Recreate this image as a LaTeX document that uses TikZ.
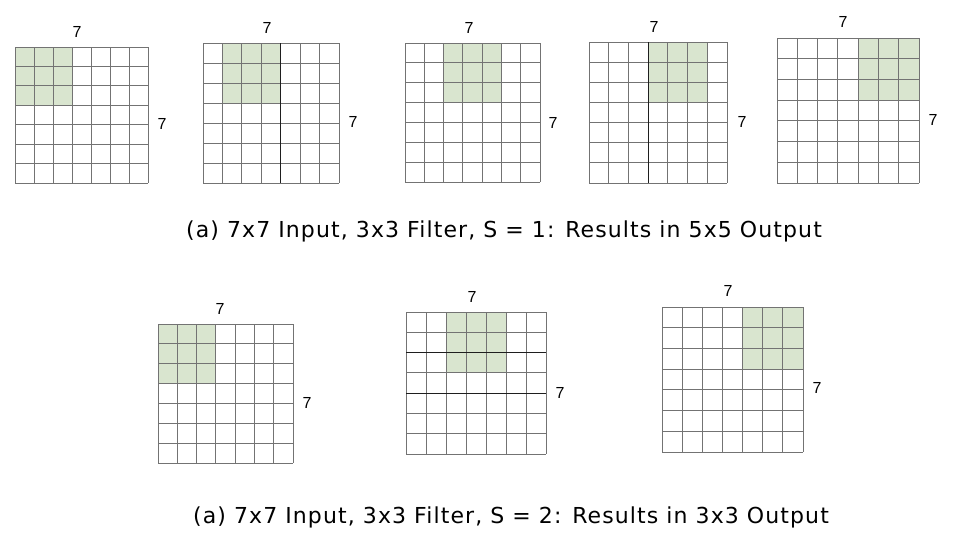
\documentclass[tikz,border=0pt]{standalone}
\usepackage{fontspec}
\setmainfont{DejaVu Sans}
\newfontfamily\arialf{Liberation Sans}
\newfontfamily\capfont[LetterSpace=5]{DejaVu Sans}
\definecolor{cellgreen}{RGB}{217,229,207}
\definecolor{gridgray}{RGB}{115,115,115}
\definecolor{griddark}{RGB}{30,30,30}
\tikzset{
  gridline/.style={draw=gridgray, line width=0.9pt},
  darkline/.style={draw=griddark, line width=0.9pt},
  dimlabel/.style={font=\arialf\fontsize{16}{18}\selectfont, inner sep=0pt},
  captiontext/.style={font=\capfont\fontsize{22}{26}\selectfont, inner sep=0pt}
}
\newcommand{\convgrid}[5]{%
  \pgfmathsetmacro\gw{(#3-#1)/7}%
  \pgfmathsetmacro\gh{(#4-#2)/7}%
  \fill[cellgreen] ({#1+#5*\gw},#2) rectangle ({#1+(#5+3)*\gw},{#2+3*\gh});
  \foreach \i in {0,...,7}{
    \draw[gridline] ({#1+\i*\gw},#2) -- ({#1+\i*\gw},#4);
    \draw[gridline] (#1,{#2+\i*\gh}) -- (#3,{#2+\i*\gh});
  }
}
\begin{document}
\begin{tikzpicture}[x=1pt,y=-1pt]
\useasboundingbox[fill=white] (0,0) rectangle (960,547);
% row 1
\convgrid{15}{47}{148}{183}{0}
\convgrid{203}{43}{339}{183}{1}
\draw[darkline] ({203+4*136/7},43) -- ({203+4*136/7},183);
\convgrid{405}{43}{540}{182}{2}
\convgrid{589}{42}{727}{183}{3}
\draw[darkline] ({589+3*138/7},42) -- ({589+3*138/7},183);
\convgrid{777}{38}{919}{183}{4}
% row 2
\convgrid{158}{324}{293}{463}{0}
\convgrid{406}{312}{546}{454}{2}
\draw[darkline] (406,{312+2*142/7}) -- (546,{312+2*142/7});
\draw[darkline] (406,{312+4*142/7}) -- (546,{312+4*142/7});
\convgrid{662}{307}{803}{452}{4}
% dimension labels
\node[dimlabel] (t1) at (77,32) {7};
\node[dimlabel] (r1) at (162,124) {7};
\node[dimlabel] (t2) at (267,28) {7};
\node[dimlabel] (r2) at (353,122) {7};
\node[dimlabel] (t3) at (469,28) {7};
\node[dimlabel] (r3) at (553,123) {7};
\node[dimlabel] (t4) at (654,27) {7};
\node[dimlabel] (r4) at (742,122) {7};
\node[dimlabel] (t5) at (843,22) {7};
\node[dimlabel] (r5) at (933,120) {7};
\node[dimlabel] (t6) at (220,309) {7};
\node[dimlabel] (r6) at (307,403) {7};
\node[dimlabel] (t7) at (472,297) {7};
\node[dimlabel] (r7) at (560,393) {7};
\node[dimlabel] (t8) at (728,291) {7};
\node[dimlabel] (r8) at (817,388) {7};
% captions
\node[captiontext] (cap1) at (504,231) {(a) 7x7 Input, 3x3 Filter, S = 1: Results in 5x5 Output};
\node[captiontext] (cap2) at (511,517) {(a) 7x7 Input, 3x3 Filter, S = 2: Results in 3x3 Output};
\end{tikzpicture}
\end{document}
